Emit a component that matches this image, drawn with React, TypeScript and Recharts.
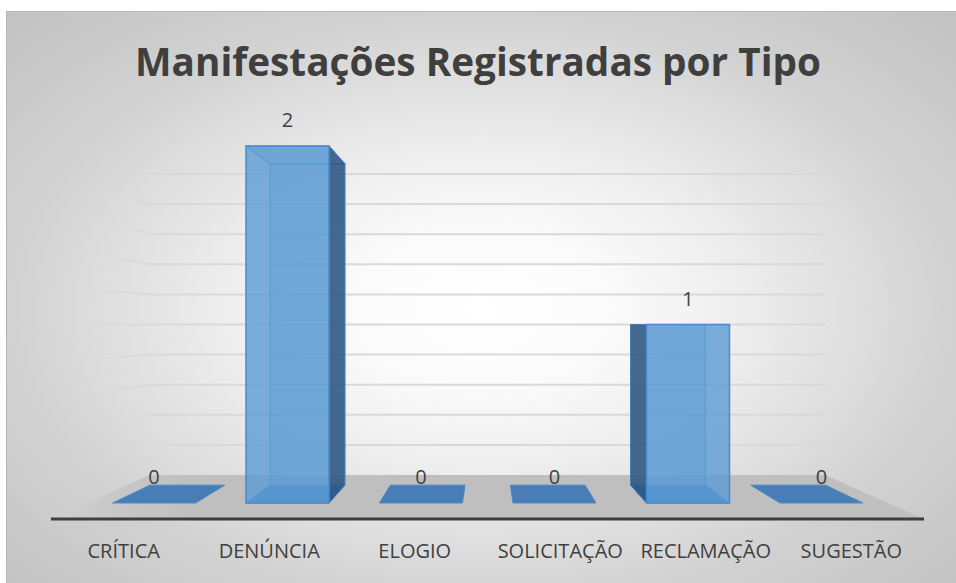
import React from 'react';
import { BarChart, Bar, XAxis, YAxis, CartesianGrid, LabelList, Customized } from 'recharts';

const title = 'Manifestações Registradas por Tipo';
const categories = ['CRÍTICA', 'DENÚNCIA', 'ELOGIO', 'SOLICITAÇÃO', 'RECLAMAÇÃO', 'SUGESTÃO'];
const values = [0, 2, 0, 0, 1, 0];
const yTicks = [0, 0.2, 0.4, 0.6, 0.8, 1.0, 1.2, 1.4, 1.6, 1.8, 2.0];
const yDomain = [0, 2];

const data = categories.map((name, i) => ({ name, value: values[i] }));

const W = 956;
const H = 583;
const MARGIN = { top: 146, right: 68, bottom: 0, left: 87 };
const AXIS_H = 80;
const X0 = MARGIN.left;
const X1 = W - MARGIN.right;
const PLOT_BOTTOM = H - MARGIN.bottom - AXIS_H;
const VX = (X0 + X1) / 2;
const VY = (MARGIN.top + PLOT_BOTTOM) / 2;
const BACK_K = 0.9;
const WALL_K = 0.8436;
const FLOOR_K = 1.09;
const TEXT = '#404040';
const FONT = '"Open Sans", "Noto Sans", sans-serif';

const proj = (px: number, py: number, k: number) => [VX + (px - VX) * k, VY + (py - VY) * k];
const pts = (arr: number[][]) => arr.map((p) => `${p[0]},${p[1]}`).join(' ');

const GridShape = (p: any) => {
  const yf = p.y1;
  const x0 = p.x1 ?? X0;
  const x1 = p.x2 ?? X1;
  const bl = proj(x0, yf, WALL_K);
  const br = proj(x1, yf, WALL_K);
  const fl = proj(x0, yf, FLOOR_K);
  const fr = proj(x1, yf, FLOOR_K);
  if (Math.abs(yf - PLOT_BOTTOM) < 1) {
    return (
      <g>
        <defs>
          <linearGradient id="floorFill" gradientUnits="userSpaceOnUse" x1={fl[0]} y1={0} x2={bl[0] + 40} y2={0}>
            <stop offset="0%" stopColor="#d0d0d0" />
            <stop offset="100%" stopColor="#bfbfbf" />
          </linearGradient>
        </defs>
        <polygon points={pts([bl, br, fr, fl])} fill="url(#floorFill)" />
        <line x1={fl[0]} y1={fl[1]} x2={fr[0]} y2={fr[1]} stroke="#3f3f3f" strokeWidth={3} />
      </g>
    );
  }
  return (
    <g>
      <defs>
        <linearGradient id={`sideFade${p.index}`} gradientUnits="userSpaceOnUse" x1={fl[0]} y1={0} x2={bl[0]} y2={0}>
          <stop offset="0%" stopColor="#d9d9d9" stopOpacity={0} />
          <stop offset="100%" stopColor="#d9d9d9" stopOpacity={1} />
        </linearGradient>
      </defs>
      <line x1={bl[0]} y1={bl[1]} x2={br[0]} y2={br[1]} stroke="#d9d9d9" strokeWidth={2} />
      <line x1={fl[0]} y1={fl[1]} x2={bl[0]} y2={bl[1]} stroke={`url(#sideFade${p.index})`} strokeWidth={2} />
    </g>
  );
};

const BottomFace = (props: any) => {
  const { x, y, width, height } = props;
  const yb = y + height;
  const fl = [x, yb];
  const fr = [x + width, yb];
  const bl = proj(x, yb, BACK_K);
  const br = proj(x + width, yb, BACK_K);
  return <polygon points={pts([bl, br, fr, fl])} fill="#4279b4" fillOpacity={0.95} stroke="#4d88c8" strokeWidth={1} />;
};

const Box3D = (props: any) => {
  const { x, y, width, height } = props;
  if (x == null || y == null || !height) return null;
  const h = height;
  const ftl = [x, y];
  const ftr = [x + width, y];
  const fbr = [x + width, y + h];
  const fbl = [x, y + h];
  const btl = proj(x, y, BACK_K);
  const btr = proj(x + width, y, BACK_K);
  const bbr = proj(x + width, y + h, BACK_K);
  const bbl = proj(x, y + h, BACK_K);
  const leftOfVp = x + width / 2 < VX;
  const side = leftOfVp ? [ftr, btr, bbr, fbr] : [ftl, btl, bbl, fbl];
  return (
    <g>
      <polygon points={pts([btl, btr, bbr, bbl])} fill="#5b9bd5" fillOpacity={0.3} stroke="#5b9bd5" strokeWidth={1.2} />
      <polygon points={pts([ftl, ftr, btr, btl])} fill="#5b9bd5" fillOpacity={0.3} stroke="#5b9bd5" strokeWidth={1.2} />
      <polygon points={pts(side)} fill="#2c5580" fillOpacity={0.85} stroke="#4a7fb8" strokeWidth={1} />
      <polygon points={pts([ftl, ftr, fbr, fbl])} fill="#5b9bd5" fillOpacity={0.8} stroke="#4a8bd0" strokeWidth={1.5} />
    </g>
  );
};

const ValueLabel = (p: any) => {
  const { x, y, width, value } = p;
  return (
    <text x={x + width / 2} y={y - 19} textAnchor="middle" fontFamily={FONT} fontSize={20} fill={TEXT}>
      {value}
    </text>
  );
};

const CatTick = (p: any) => {
  const { x, payload } = p;
  const fx = VX + (x - VX) * FLOOR_K;
  return (
    <text x={fx} y={558} textAnchor="middle" fontFamily={FONT} fontSize={20} fill={TEXT}>
      {payload.value}
    </text>
  );
};

const Title = () => (
  <text
    x={478}
    y={76}
    textAnchor="middle"
    fontFamily='"Open Sans", sans-serif'
    fontWeight={700}
    fontSize={39}
    fill="#3f3f3f"
    textLength={686}
    lengthAdjust="spacingAndGlyphs"
  >
    {title}
  </text>
);

export default function App() {
  return (
    <div style={{ position: 'absolute', left: 0, top: 0, width: W, height: H, background: '#ffffff' }}>
      <div
        style={{
          position: 'absolute',
          left: 6,
          top: 11,
          width: W - 6,
          height: H - 11,
          boxSizing: 'border-box',
          borderTop: '1px solid #b4b4b4',
          borderLeft: '1px solid #b4b4b4',
          background:
            'radial-gradient(ellipse at 50% 52%, #ffffff 0%, #fbfbfb 18%, #eeeeee 38%, #d2d2d2 70%, #c2c2c2 100%)',
        }}
      />
      <div style={{ position: 'absolute', left: 0, top: 0 }}>
        <BarChart width={W} height={H} data={data} margin={MARGIN} barCategoryGap="19.1%">
          <Customized component={Title} />
          <CartesianGrid vertical={false} horizontal={<GridShape />} syncWithTicks />
          <XAxis
            dataKey="name"
            height={AXIS_H}
            axisLine={false}
            tickLine={false}
            tick={<CatTick />}
            interval={0}
          />
          <YAxis domain={yDomain} ticks={yTicks} hide />
          <Bar dataKey="value" shape={<Box3D />} background={<BottomFace />} isAnimationActive={false}>
            <LabelList dataKey="value" content={<ValueLabel />} />
          </Bar>
        </BarChart>
      </div>
    </div>
  );
}
